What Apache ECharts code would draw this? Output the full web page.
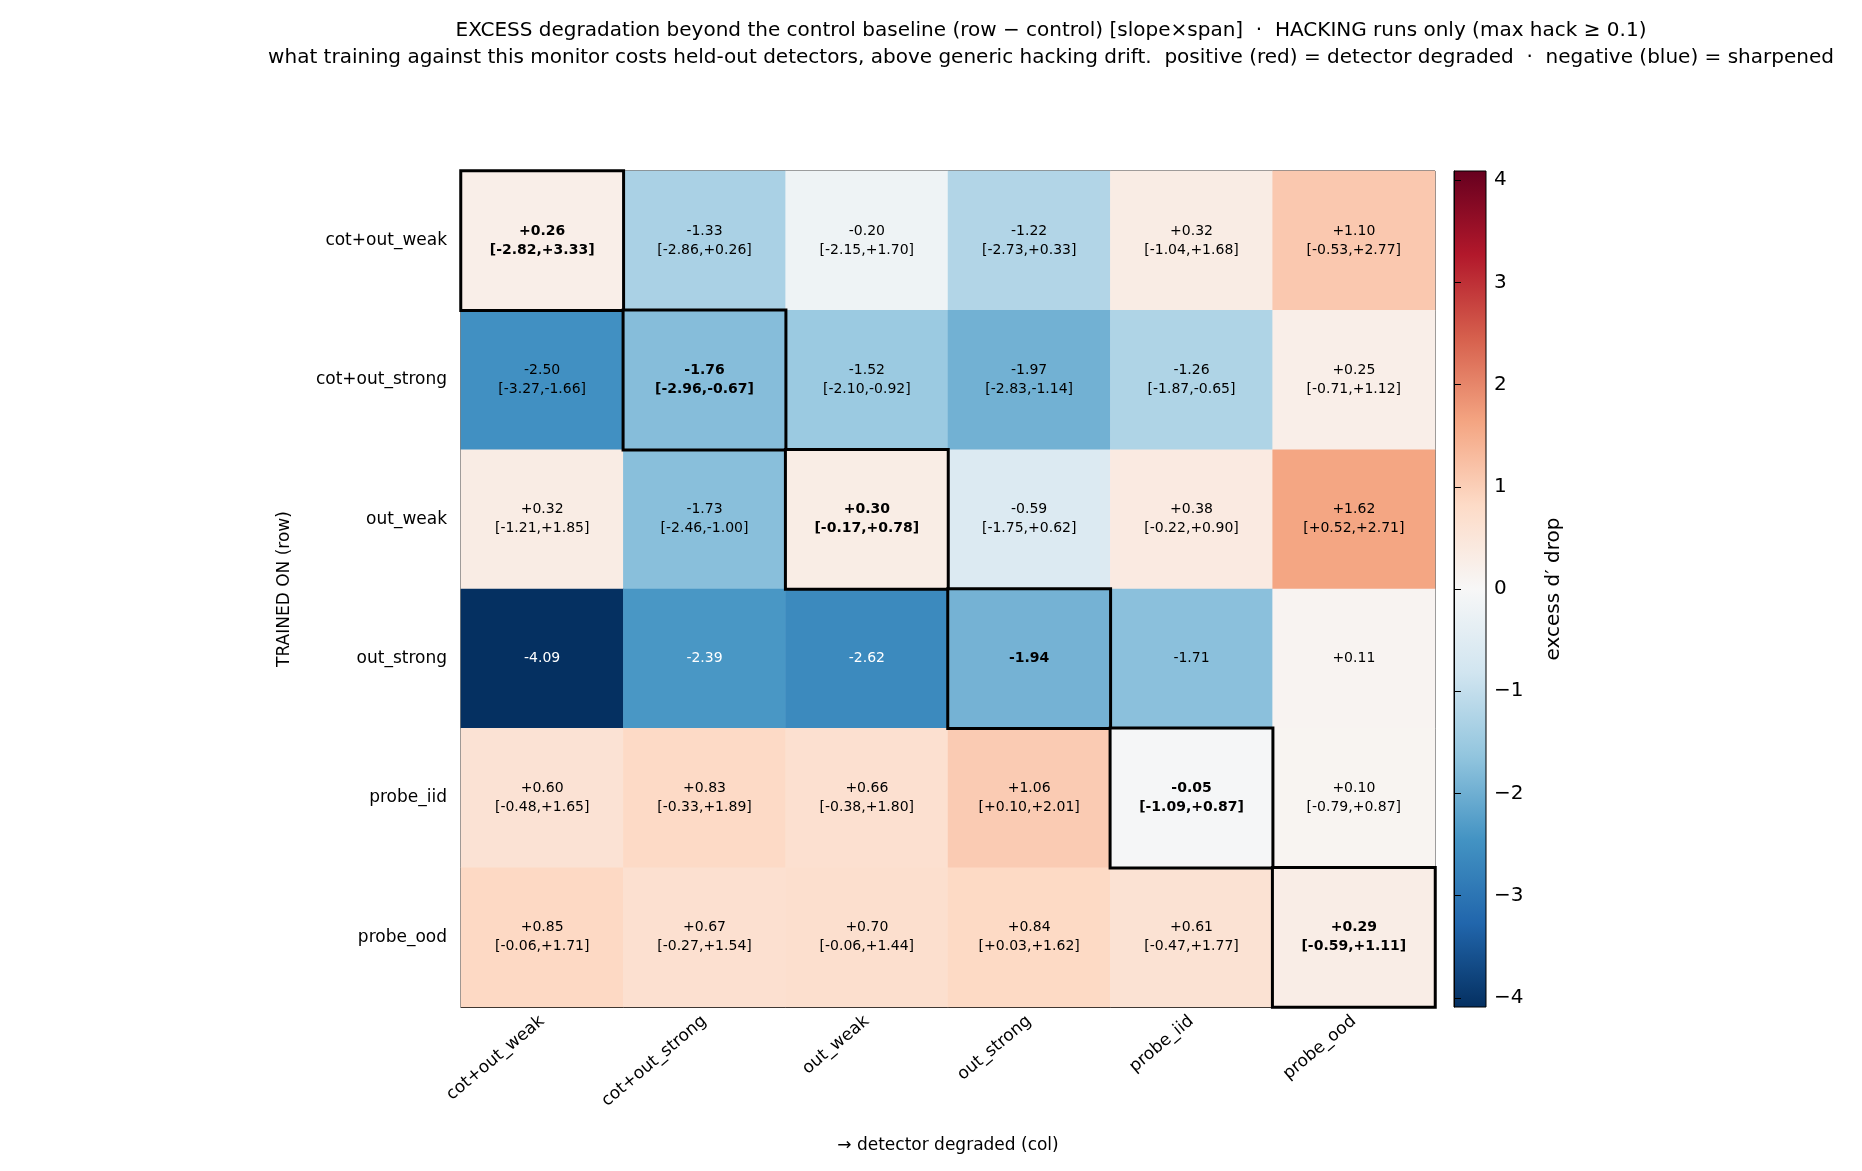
<!DOCTYPE html>
<html><head><meta charset="utf-8">
<script src="https://cdn.jsdelivr.net/npm/echarts@6/dist/echarts.min.js"></script>
<style>html,body{margin:0;background:#fff}#c{width:1862px;height:1171px}</style>
</head><body><div id="c"></div>
<script>
var rows = ['cot+out_weak', 'cot+out_strong', 'out_weak', 'out_strong', 'probe_iid', 'probe_ood'];
var cols = ['cot+out_weak', 'cot+out_strong', 'out_weak', 'out_strong', 'probe_iid', 'probe_ood'];
var values = [
  [0.26, -1.33, -0.20, -1.22, 0.32, 1.10],
  [-2.50, -1.76, -1.52, -1.97, -1.26, 0.25],
  [0.32, -1.73, 0.30, -0.59, 0.38, 1.62],
  [-4.09, -2.39, -2.62, -1.94, -1.71, 0.11],
  [0.60, 0.83, 0.66, 1.06, -0.05, 0.10],
  [0.85, 0.67, 0.70, 0.84, 0.61, 0.29]
];
var ciLow = [
  [-2.82, -2.86, -2.15, -2.73, -1.04, -0.53],
  [-3.27, -2.96, -2.10, -2.83, -1.87, -0.71],
  [-1.21, -2.46, -0.17, -1.75, -0.22, 0.52],
  [null, null, null, null, null, null],
  [-0.48, -0.33, -0.38, 0.10, -1.09, -0.79],
  [-0.06, -0.27, -0.06, 0.03, -0.47, -0.59]
];
var ciHigh = [
  [3.33, 0.26, 1.70, 0.33, 1.68, 2.77],
  [-1.66, -0.67, -0.92, -1.14, -0.65, 1.12],
  [1.85, -1.00, 0.78, 0.62, 0.90, 2.71],
  [null, null, null, null, null, null],
  [1.65, 1.89, 1.80, 2.01, 0.87, 0.87],
  [1.71, 1.54, 1.44, 1.62, 1.77, 1.11]
];
var cbTicks = [-4, -3, -2, -1, 0, 1, 2, 3, 4];

var rdbu = ['#053061', '#2166ac', '#4393c3', '#92c5de', '#d1e5f0', '#f7f7f7', '#fddbc7', '#f4a582', '#d6604d', '#b2182b', '#67001f'];
var vmin = -4.09, vmax = 4.09;

function fmt(v) { return (v >= 0 ? '+' : '') + v.toFixed(2); }

var data = [];
for (var i = 0; i < rows.length; i++) {
  for (var j = 0; j < cols.length; j++) {
    var v = values[i][j];
    var txt = fmt(v);
    if (ciLow[i][j] !== null) txt += '\n[' + fmt(ciLow[i][j]) + ',' + fmt(ciHigh[i][j]) + ']';
    var diag = i === j;
    data.push({
      value: [j, i, v],
      name: txt,
      itemStyle: diag ? { borderColor: '#000', borderWidth: 3 } : { borderWidth: 0 },
      label: {
        fontWeight: diag ? 'bold' : 'normal',
        color: (i === 3 && v < -2) ? '#fff' : '#000'
      }
    });
  }
}
// diagonal drawn last so borders stay on top
data.sort(function (a, b) { return (a.value[0] === a.value[1]) - (b.value[0] === b.value[1]); });

var stops = rdbu.map(function (c, k) { return { offset: 1 - k / (rdbu.length - 1), color: c }; });

var chart = echarts.init(document.getElementById('c'));
chart.setOption({
  animation: false,
  textStyle: { fontFamily: 'DejaVu Sans' },
  title: {
    text: 'EXCESS degradation beyond the control baseline (row \u2212 control) [slope\u00d7span]  \u00b7  HACKING runs only (max hack \u2265 0.1)\nwhat training against this monitor costs held-out detectors, above generic hacking drift.  positive (red) = detector degraded  \u00b7  negative (blue) = sharpened',
    left: 1046, top: 12, textAlign: 'center',
    textStyle: { fontSize: 20, fontWeight: 'normal', color: '#000', lineHeight: 27 }
  },
  grid: [
    { left: 461, top: 171, width: 974, height: 836, show: true, borderColor: '#000', borderWidth: 1 },
    { left: 1454, top: 171, width: 32, height: 836, show: true, borderColor: '#000', borderWidth: 1 }
  ],
  xAxis: [
    {
      type: 'category', data: cols, gridIndex: 0, position: 'bottom',
      name: '\u2192 detector degraded (col)', nameLocation: 'middle', nameGap: 130,
      nameTextStyle: { fontSize: 17, color: '#000' },
      axisLine: { show: true, lineStyle: { color: '#000' } },
      axisTick: { alignWithLabel: true, length: 7, lineStyle: { color: '#000' } },
      axisLabel: { rotate: 40, fontSize: 17, color: '#000', margin: 12 },
      splitLine: { show: false }
    },
    { type: 'value', gridIndex: 1, show: false, min: 0, max: 1 }
  ],
  yAxis: [
    {
      type: 'category', data: rows, gridIndex: 0, inverse: true,
      name: 'TRAINED ON (row)', nameLocation: 'middle', nameGap: 168, nameRotate: 90,
      nameTextStyle: { fontSize: 17, color: '#000' },
      axisLine: { show: true, lineStyle: { color: '#000' } },
      axisTick: { alignWithLabel: true, length: 7, lineStyle: { color: '#000' } },
      axisLabel: { fontSize: 17, color: '#000', margin: 14 },
      splitLine: { show: false }
    },
    {
      type: 'value', gridIndex: 1, position: 'right', min: vmin, max: vmax,
      name: 'excess d\u2032 drop', nameLocation: 'middle', nameGap: 58, nameRotate: 90,
      nameTextStyle: { fontSize: 20, color: '#000' },
      axisLine: { show: true, lineStyle: { color: '#000' } },
      axisTick: { show: true, length: 7, lineStyle: { color: '#000' }, customValues: cbTicks },
      axisLabel: {
        fontSize: 20, color: '#000', margin: 8, customValues: cbTicks,
        formatter: function (v) { return v < 0 ? '\u2212' + (-v) : String(v); }
      },
      splitLine: { show: false }
    }
  ],
  visualMap: {
    show: false, type: 'continuous', min: vmin, max: vmax, dimension: 2, seriesIndex: 0,
    inRange: { color: rdbu }
  },
  graphic: [{
    type: 'rect', left: 1454, top: 171, z: -1,
    shape: { width: 32, height: 836 },
    style: { fill: new echarts.graphic.LinearGradient(0, 0, 0, 1, stops) }
  }],
  series: [{
    type: 'heatmap', xAxisIndex: 0, yAxisIndex: 0, data: data,
    label: {
      show: true, fontSize: 14, lineHeight: 19,
      formatter: function (p) { return p.name; }
    },
    emphasis: { disabled: true }
  }]
});
</script></body></html>
